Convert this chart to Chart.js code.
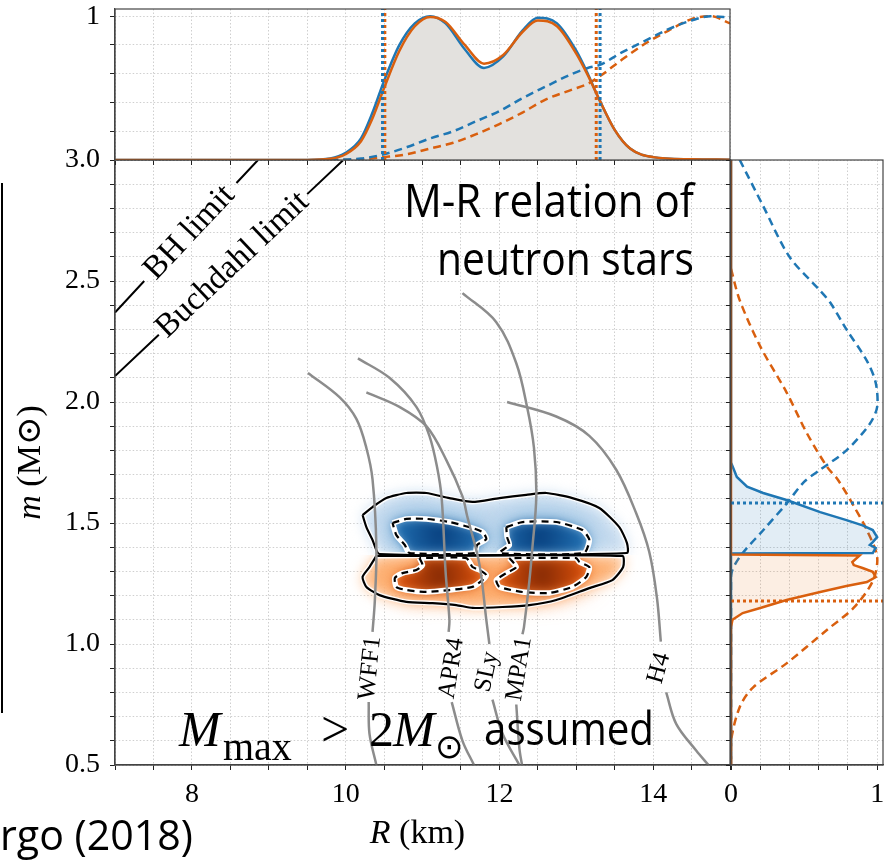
<!DOCTYPE html>
<html>
<head>
<meta charset="utf-8">
<script src="https://cdn.jsdelivr.net/npm/chart.js@4.4.1/dist/chart.umd.min.js"></script>
<style>
body { margin: 0; background: #fff; }
#wrap { position: relative; width: 885px; height: 865px; overflow: hidden; background: #fff; }
canvas { position: absolute; left: 0; top: 0; }
</style>
</head>
<body>
<div id="wrap">
<canvas id="mainChart" width="885" height="865"></canvas>
<canvas id="topChart" width="885" height="865"></canvas>
<canvas id="sideChart" width="885" height="865"></canvas>
</div>
<script>
// ---------- top panel : marginal posterior of R ----------
var rGrid = [7, 9.5, 9.8, 10.0, 10.2, 10.35, 10.5, 10.7, 10.9, 11.1, 11.3, 11.55, 11.8, 12.05, 12.3, 12.5, 12.75, 13.0, 13.15, 13.3, 13.5, 13.7, 14.0, 14.5, 15];
var pR1 = [0, 0, 0.01, 0.05, 0.15, 0.33, 0.55, 0.80, 0.95, 1.0, 0.95, 0.77, 0.64, 0.72, 0.90, 0.99, 0.95, 0.76, 0.60, 0.42, 0.21, 0.08, 0.02, 0.005, 0.002];
var pR2 = [0, 0, 0.008, 0.04, 0.13, 0.29, 0.50, 0.76, 0.93, 0.995, 0.96, 0.80, 0.67, 0.73, 0.89, 0.97, 0.93, 0.74, 0.59, 0.42, 0.21, 0.08, 0.02, 0.005, 0.002];
var cdfR = [9.8, 10.2, 10.5, 10.8, 11.1, 11.4, 11.7, 12.0, 12.3, 12.6, 12.95, 13.15, 13.3, 13.6, 13.9, 14.2, 14.5, 14.75, 15];
var cR1 = [0, 0.01, 0.04, 0.09, 0.15, 0.20, 0.27, 0.34, 0.43, 0.51, 0.60, 0.64, 0.66, 0.75, 0.83, 0.91, 0.97, 1.0, 0.99];
var cR2 = [0, 0.005, 0.02, 0.04, 0.08, 0.12, 0.18, 0.25, 0.33, 0.42, 0.49, 0.53, 0.58, 0.70, 0.81, 0.90, 0.98, 1.0, 0.95];
var ciR1 = [10.48, 13.31];
var ciR2 = [10.51, 13.26];
var topSpan = [0, 1.05];

// ---------- side panel : marginal posteriors of m1, m2 ----------
var mM1 = [3.0, 1.75, 1.69, 1.65, 1.624, 1.595, 1.545, 1.512, 1.49, 1.471, 1.442, 1.421, 1.409, 1.397, 1.376, 1.374, 0.5];
var pM1 = [0, 0, 0.04, 0.11, 0.22, 0.38, 0.61, 0.79, 0.90, 0.97, 1.0, 0.97, 0.95, 0.99, 0.97, 0, 0];
var mM2 = [3.0, 1.37, 1.366, 1.339, 1.326, 1.314, 1.298, 1.277, 1.256, 1.240, 1.215, 1.182, 1.149, 1.128, 1.10, 1.07, 0.5];
var pM2 = [0, 0, 0.88, 0.83, 0.84, 0.90, 0.97, 0.99, 0.93, 0.79, 0.61, 0.38, 0.20, 0.08, 0.01, 0, 0];
var cM1 = [3.0, 2.81, 2.60, 2.46, 2.41, 2.30, 2.17, 2.08, 1.98, 1.91, 1.80, 1.72, 1.67, 1.58, 1.47, 1.36, 1.28, 0.5];
var cP1 = [0.06, 0.22, 0.40, 0.61, 0.68, 0.79, 0.93, 0.99, 1.0, 0.95, 0.79, 0.61, 0.50, 0.38, 0.22, 0.06, 0.0, 0];
var cM2 = [2.55, 2.42, 2.23, 2.04, 1.87, 1.73, 1.68, 1.57, 1.47, 1.36, 1.26, 1.15, 1.06, 0.92, 0.82, 0.74, 0.60, 0.5];
var cP2 = [0, 0.06, 0.20, 0.38, 0.52, 0.66, 0.73, 0.84, 0.93, 1.0, 0.97, 0.84, 0.66, 0.38, 0.15, 0.06, 0.0, 0];
var ciM1 = 1.583;
var ciM2 = 1.178;
var sideSpan = [0, 1.04];

// ---------- main panel : EOS M-R curves ----------
var eosNames = ['WFF1', 'APR4', 'SLy', 'MPA1', 'H4'];
var wff1R = [9.51, 9.92, 10.14, 10.27, 10.35, 10.40, 10.38, 10.35, null, 10.30, 10.31, 10.40];
var wff1M = [2.12, 2.02, 1.93, 1.81, 1.68, 1.40, 1.18, 1.05, null, 0.76, 0.63, 0.50];
var apr4R = [10.16, 10.57, 10.92, 11.09, 11.19, 11.25, 11.30, 11.35, 11.34, null, 11.38, 11.52, 11.67];
var apr4M = [2.18, 2.10, 1.98, 1.86, 1.73, 1.60, 1.30, 1.10, 1.05, null, 0.76, 0.60, 0.50];
var slyR = [10.27, 10.70, 11.05, 11.31, 11.52, 11.58, 11.74, 11.83, 11.87, null, 11.91, 12.04, 12.26];
var slyM = [2.04, 1.98, 1.90, 1.76, 1.61, 1.53, 1.33, 1.10, 1.00, null, 0.77, 0.63, 0.50];
var mpa1R = [11.52, 11.96, 12.22, 12.36, 12.45, 12.48, 12.43, 12.39, 12.32, 12.30, null, 12.22, 12.26, 12.30];
var mpa1M = [2.45, 2.33, 2.16, 1.98, 1.81, 1.61, 1.40, 1.26, 1.07, 1.04, null, 0.75, 0.57, 0.49];
var h4R = [12.10, 12.74, 13.17, 13.52, 13.78, 13.95, 14.05, 14.10, null, 14.17, 14.30, 14.56, 14.72];
var h4M = [2.00, 1.94, 1.86, 1.72, 1.54, 1.38, 1.19, 1.01, null, 0.80, 0.67, 0.56, 0.50];
var eosLabR = [10.32, 11.38, 11.84, 12.26, 14.08];
var eosLabM = [0.90, 0.90, 0.885, 0.897, 0.90];
var eosLabRot = [-84, -81, -78, -81, -74];

// limits
var bhR = [7.0, 7.38, null, 8.58, 8.86];
var bhM = [2.37, 2.50, null, 2.905, 3.0];
var buR = [7.0, 7.57, null, 9.50, 9.97];
var buM = [2.107, 2.278, null, 2.859, 3.0];
var bhLab = [7.97, 2.70];
var buLab = [8.53, 2.566];

// 2D posterior contours (m1 blue above, m2 orange below)
var mSplit = 1.368;
var out1R = [10.22, 10.35, 10.53, 10.79, 11.05, 11.35, 11.65, 12.0, 12.35, 12.61, 12.95, 13.30, 13.56, 13.66, 13.66, 10.44, 10.35, 10.27];
var out1M = [1.533, 1.566, 1.603, 1.624, 1.624, 1.603, 1.587, 1.603, 1.616, 1.624, 1.603, 1.562, 1.483, 1.417, 1.376, 1.372, 1.430, 1.483];
var in1aR = [10.61, 10.79, 11.05, 11.35, 11.61, 11.78, 11.83, 11.71, 11.68, 10.83, 10.77, 10.66];
var in1aM = [1.50, 1.517, 1.517, 1.504, 1.483, 1.463, 1.434, 1.409, 1.376, 1.376, 1.409, 1.450];
var in1bR = [12.09, 12.30, 12.74, 13.08, 13.17, 13.10, 12.0, 12.13, 12.10];
var in1bM = [1.483, 1.504, 1.504, 1.471, 1.430, 1.376, 1.376, 1.409, 1.442];
var out2R = [10.40, 13.60, 13.61, 13.47, 13.17, 12.74, 12.39, 12.04, 11.65, 11.44, 11.13, 10.79, 10.44, 10.27, 10.22, 10.31];
var out2M = [1.364, 1.364, 1.318, 1.264, 1.231, 1.182, 1.161, 1.153, 1.149, 1.161, 1.169, 1.174, 1.202, 1.236, 1.277, 1.318];
var in2aR = [10.96, 11.0, 10.92, 10.74, 10.64, 10.66, 10.79, 11.05, 11.35, 11.65, 11.78, 11.83, 11.74, 11.65, 11.57];
var in2aM = [1.355, 1.326, 1.306, 1.293, 1.273, 1.236, 1.223, 1.215, 1.223, 1.236, 1.264, 1.285, 1.306, 1.318, 1.355];
var in2bR = [12.13, 12.22, 12.09, 11.96, 12.0, 12.30, 12.65, 12.95, 13.13, 13.17, 13.04, 13.0];
var in2bM = [1.355, 1.318, 1.293, 1.264, 1.236, 1.215, 1.211, 1.236, 1.277, 1.318, 1.339, 1.355];

var blue = '#1f77b4';
var orange = '#d95f0e';
var gray = '#8c8c8c';
var serif = "'Liberation Serif', 'DejaVu Serif', serif";
var sans = "'Open Sans', 'Liberation Sans', sans-serif";

Chart.defaults.font.family = serif;
Chart.defaults.font.size = 28;
Chart.defaults.color = '#000';

function pts(xs, ys) {
    return xs.map(function(x, i) { return {x: x, y: ys[i]}; });
}
function closed(xs, ys) {
    var p = pts(xs, ys);
    p.push(p[0]);
    return p;
}
function fixSize(w, h) {
    return function(s) {
        if (w !== null) s.width = w;
        if (h !== null) s.height = h;
        s.paddingTop = 0; s.paddingBottom = 0; s.paddingLeft = 0; s.paddingRight = 0;
    };
}
function gridStyle() {
    return {color: '#cfcfcf', lineWidth: 1, tickLength: 5, tickColor: '#222', tickWidth: 1};
}
function borderStyle() {
    return {color: '#444', width: 1.2, dash: [1.5, 2]};
}
function line(data, color, width, dash, order, extra) {
    var d = {data: data, borderColor: color, borderWidth: width, borderDash: dash || [], order: order,
             pointRadius: 0, fill: false, tension: 0};
    for (var k in extra) d[k] = extra[k];
    return d;
}

var framePlugin = {
    id: 'frame',
    afterDatasetsDraw: function(chart) {
        var a = chart.chartArea, ctx = chart.ctx;
        ctx.save();
        ctx.strokeStyle = '#444';
        ctx.lineWidth = 1.2;
        ctx.strokeRect(a.left, a.top, a.right - a.left, a.bottom - a.top);
        ctx.restore();
    }
};

var baseOpts = {
    responsive: false,
    animation: false,
    plugins: {legend: {display: false}, tooltip: {enabled: false}},
    elements: {point: {radius: 0}}
};
function opts(extra) {
    var o = JSON.parse(JSON.stringify(baseOpts));
    for (var k in extra) o[k] = extra[k];
    return o;
}

// ================= main panel =================
function tracePoly(ctx, xs, ys, rs, ms) {
    ctx.beginPath();
    for (var i = 0; i < rs.length; i++) {
        var px = xs.getPixelForValue(rs[i]), py = ys.getPixelForValue(ms[i]);
        if (i === 0) ctx.moveTo(px, py); else ctx.lineTo(px, py);
    }
    ctx.closePath();
}

var kdeRegions = [
    {upper: true, outR: out1R, outM: out1M, lobes: [[in1aR, in1aM], [in1bR, in1bM]],
     shades: ['#c6dbef', '#5a9fd0', '#2474b6', '#08407f']},
    {upper: false, outR: out2R, outM: out2M, lobes: [[in2aR, in2aM], [in2bR, in2bM]],
     shades: ['#fdb377', '#f98132', '#e2540c', '#852a04']}
];

var kdePlugin = {
    id: 'kde',
    beforeDatasetsDraw: function(chart) {
        var ctx = chart.ctx, a = chart.chartArea;
        var xs = chart.scales.x, ys = chart.scales.y;
        var ySplit = ys.getPixelForValue(mSplit);
        kdeRegions.forEach(function(reg) {
            ctx.save();
            ctx.beginPath();
            if (reg.upper) ctx.rect(a.left, a.top, a.right - a.left, ySplit - a.top);
            else ctx.rect(a.left, ySplit, a.right - a.left, a.bottom - ySplit);
            ctx.clip();
            ctx.filter = 'blur(7px)';
            tracePoly(ctx, xs, ys, reg.outR, reg.outM);
            ctx.fillStyle = reg.shades[0];
            ctx.fill();
            reg.lobes.forEach(function(lobe) {
                tracePoly(ctx, xs, ys, lobe[0], lobe[1]);
                ctx.filter = 'blur(14px)';
                ctx.fillStyle = reg.shades[1];
                ctx.fill();
            });
            reg.lobes.forEach(function(lobe) {
                var cx = 0, cy = 0, n = lobe[0].length, r = 0, i;
                for (i = 0; i < n; i++) {
                    cx += xs.getPixelForValue(lobe[0][i]) / n;
                    cy += ys.getPixelForValue(lobe[1][i]) / n;
                }
                for (i = 0; i < n; i++) {
                    r = Math.max(r, Math.hypot(xs.getPixelForValue(lobe[0][i]) - cx, ys.getPixelForValue(lobe[1][i]) - cy));
                }
                var g = ctx.createRadialGradient(cx, cy, 0, cx, cy, r);
                g.addColorStop(0, reg.shades[3]);
                g.addColorStop(1, reg.shades[2]);
                tracePoly(ctx, xs, ys, lobe[0], lobe[1]);
                ctx.filter = 'blur(5px)';
                ctx.fillStyle = g;
                ctx.fill();
            });
            ctx.restore();
        });
    }
};

var textPlugin = {
    id: 'texts',
    afterDraw: function(chart) {
        var ctx = chart.ctx, xs = chart.scales.x, ys = chart.scales.y, a = chart.chartArea;
        ctx.save();
        ctx.fillStyle = '#000';

        // EOS labels
        ctx.font = "25px " + serif;
        ctx.textAlign = 'center';
        ctx.textBaseline = 'middle';
        eosNames.forEach(function(name, i) {
            ctx.save();
            ctx.translate(xs.getPixelForValue(eosLabR[i]), ys.getPixelForValue(eosLabM[i]));
            ctx.rotate(eosLabRot[i] * Math.PI / 180);
            ctx.fillText(name, 0, 0);
            ctx.restore();
        });

        // limit labels, rotated along their lines
        function limitLabel(txt, lab, rs, ms) {
            var x0 = xs.getPixelForValue(rs[0]), y0 = ys.getPixelForValue(ms[0]);
            var x1 = xs.getPixelForValue(rs[rs.length - 1]), y1 = ys.getPixelForValue(ms[ms.length - 1]);
            ctx.save();
            ctx.translate(xs.getPixelForValue(lab[0]), ys.getPixelForValue(lab[1]));
            ctx.rotate(Math.atan2(y1 - y0, x1 - x0));
            ctx.fillText(txt, 0, 0);
            ctx.restore();
        }
        ctx.font = "33px " + serif;
        limitLabel('BH limit', bhLab, bhR, bhM);
        limitLabel('Buchdahl limit', buLab, buR, buM);

        // axis titles (italic symbol + upright unit)
        function mixed(parts, cx, cy, rot) {
            var w = 0;
            parts.forEach(function(p) { ctx.font = p[1]; w += ctx.measureText(p[0]).width; });
            ctx.save();
            ctx.translate(cx, cy);
            ctx.rotate(rot);
            ctx.textAlign = 'left';
            var x = -w / 2;
            parts.forEach(function(p) { ctx.font = p[1]; ctx.fillText(p[0], x, 0); x += ctx.measureText(p[0]).width; });
            ctx.restore();
        }
        ctx.textBaseline = 'middle';
        mixed([['R', 'italic 34px ' + serif], [' (km)', '34px ' + serif]], (a.left + a.right) / 2 - 5, 834, 0);
        mixed([['m', 'italic 34px ' + serif], [' (M\u2299)', '34px ' + serif]], 31, (a.top + a.bottom) / 2, -Math.PI / 2);

        // slide annotations
        ctx.textBaseline = 'alphabetic';
        ctx.textAlign = 'right';
        ctx.font = "45px " + sans;
        ctx.fillText('M-R relation of', 694, 217, 290);
        ctx.fillText('neutron stars', 694, 275, 257);

        ctx.textAlign = 'left';
        ctx.font = "italic 50px " + serif;
        ctx.fillText('M', 179, 746);
        ctx.font = "40px " + serif;
        ctx.fillText('max', 223, 760);
        ctx.font = "50px " + serif;
        ctx.fillText('>', 321, 746);
        ctx.fillText('2', 369, 746);
        ctx.font = "italic 50px " + serif;
        ctx.fillText('M', 393, 746);
        ctx.font = "34px 'DejaVu Sans'";
        ctx.fillText('\u2299', 435, 758);
        ctx.font = "45px " + sans;
        ctx.fillText('assumed', 484, 745, 170);

        ctx.font = "42px " + sans;
        ctx.fillText('rgo (2018)', 0, 850, 193);
        ctx.fillRect(1, 183, 2, 530);
        ctx.restore();
    }
};

var mainSets = [];
[[wff1R, wff1M], [apr4R, apr4M], [slyR, slyM], [mpa1R, mpa1M], [h4R, h4M]].forEach(function(c) {
    mainSets.push(line(pts(c[0], c[1]), gray, 2.5, [], 1, {tension: 0.35}));
});
mainSets.push(line(pts(bhR, bhM), '#000', 2, [], 1));
mainSets.push(line(pts(buR, buM), '#000', 2, [], 1));
[[out1R, out1M], [out2R, out2M]].forEach(function(c) {
    mainSets.push(line(closed(c[0], c[1]), '#000', 2.2, [], 3, {tension: 0.2}));
    mainSets.push(line(closed(c[0], c[1]), 'rgba(255,255,255,0.9)', 5, [], 4, {tension: 0.2}));
});
[[in1aR, in1aM], [in1bR, in1bM], [in2aR, in2aM], [in2bR, in2bM]].forEach(function(c) {
    mainSets.push(line(closed(c[0], c[1]), '#000', 2.2, [7, 5], 3, {tension: 0.2}));
    mainSets.push(line(closed(c[0], c[1]), '#fff', 5.5, [], 4, {tension: 0.2}));
});

new Chart(document.getElementById('mainChart'), {
    type: 'line',
    data: {datasets: mainSets},
    options: opts({
        layout: {padding: {left: 0, right: 155, top: 160, bottom: 0}},
        scales: {
            x: {type: 'linear', min: 7, max: 15, afterFit: fixSize(null, 100),
                ticks: {stepSize: 0.5, autoSkip: false, includeBounds: false, maxRotation: 0, padding: 8,
                        callback: function(v) { return v % 2 === 0 ? String(v) : ''; }},
                grid: gridStyle(), border: borderStyle()},
            y: {type: 'linear', min: 0.5, max: 3.0, afterFit: fixSize(115, null),
                ticks: {stepSize: 0.1, autoSkip: false, includeBounds: false, padding: 10,
                        callback: function(v) { return Math.abs(v * 2 - Math.round(v * 2)) < 1e-6 ? v.toFixed(1) : ''; }},
                grid: gridStyle(), border: borderStyle()}
        }
    }),
    plugins: [kdePlugin, framePlugin, textPlugin]
});

// ================= top panel =================
new Chart(document.getElementById('topChart'), {
    type: 'line',
    data: {datasets: [
        line(pts([ciR1[0], ciR1[0]], topSpan), blue, 3, [3, 3], 0),
        line(pts([ciR2[0], ciR2[0]], topSpan), orange, 3, [3, 3], 0),
        line(pts([ciR1[1], ciR1[1]], topSpan), blue, 3, [3, 3], 0),
        line(pts([ciR2[1], ciR2[1]], topSpan), orange, 3, [3, 3], 0),
        line(pts(rGrid, pR2), orange, 2.5, [], 1, {cubicInterpolationMode: 'monotone'}),
        line(pts(rGrid, pR1), blue, 2.5, [], 2, {cubicInterpolationMode: 'monotone'}),
        line(pts(cdfR, cR1), blue, 2.5, [8, 5], 3, {cubicInterpolationMode: 'monotone'}),
        line(pts(cdfR, cR2), orange, 2.5, [8, 5], 3, {cubicInterpolationMode: 'monotone'}),
        line(pts(rGrid, pR1), 'rgba(0,0,0,0)', 0, [], 9, {cubicInterpolationMode: 'monotone', fill: 'origin', backgroundColor: '#e3e1de'})
    ]},
    options: opts({
        layout: {padding: {left: 0, right: 155, top: 9, bottom: 705}},
        scales: {
            x: {type: 'linear', min: 7, max: 15, afterFit: fixSize(null, 0),
                ticks: {display: false, stepSize: 0.5, autoSkip: false, includeBounds: false},
                grid: gridStyle(), border: borderStyle()},
            y: {type: 'linear', min: 0, max: 1.05, afterFit: fixSize(115, null),
                ticks: {stepSize: 0.2, autoSkip: false, includeBounds: false, padding: 10,
                        callback: function(v) { return Math.abs(v - 1) < 1e-6 ? '1' : ''; }},
                grid: gridStyle(), border: borderStyle()}
        }
    }),
    plugins: [framePlugin]
});

// ================= side panel =================
new Chart(document.getElementById('sideChart'), {
    type: 'line',
    data: {datasets: [
        line(pts(sideSpan, [ciM1, ciM1]), blue, 3, [3, 3], 0),
        line(pts(sideSpan, [ciM2, ciM2]), orange, 3, [3, 3], 0),
        line(pts(pM2, mM2), orange, 2.5, [], 1, {fill: 'origin', backgroundColor: 'rgba(230,120,40,0.13)'}),
        line(pts(pM1, mM1), blue, 2.5, [], 2, {fill: 'origin', backgroundColor: 'rgba(31,119,180,0.13)'}),
        line(pts(cP1, cM1), blue, 2.5, [8, 5], 3, {tension: 0.3}),
        line(pts(cP2, cM2), orange, 2.5, [8, 5], 3, {tension: 0.3})
    ]},
    options: opts({
        indexAxis: 'y',
        layout: {padding: {left: 720, right: 2, top: 160, bottom: 0}},
        scales: {
            x: {type: 'linear', min: 0, max: 1.04, afterFit: fixSize(null, 100),
                ticks: {stepSize: 0.2, autoSkip: false, includeBounds: false, maxRotation: 0, padding: 8,
                        callback: function(v) { return (Math.abs(v) < 1e-6 || Math.abs(v - 1) < 1e-6) ? String(Math.round(v)) : ''; }},
                grid: gridStyle(), border: borderStyle()},
            y: {type: 'linear', min: 0.5, max: 3.0, afterFit: fixSize(11, null),
                ticks: {display: false, stepSize: 0.1, autoSkip: false, includeBounds: false},
                grid: gridStyle(), border: borderStyle()}
        }
    }),
    plugins: [framePlugin]
});
</script>
</body>
</html>
